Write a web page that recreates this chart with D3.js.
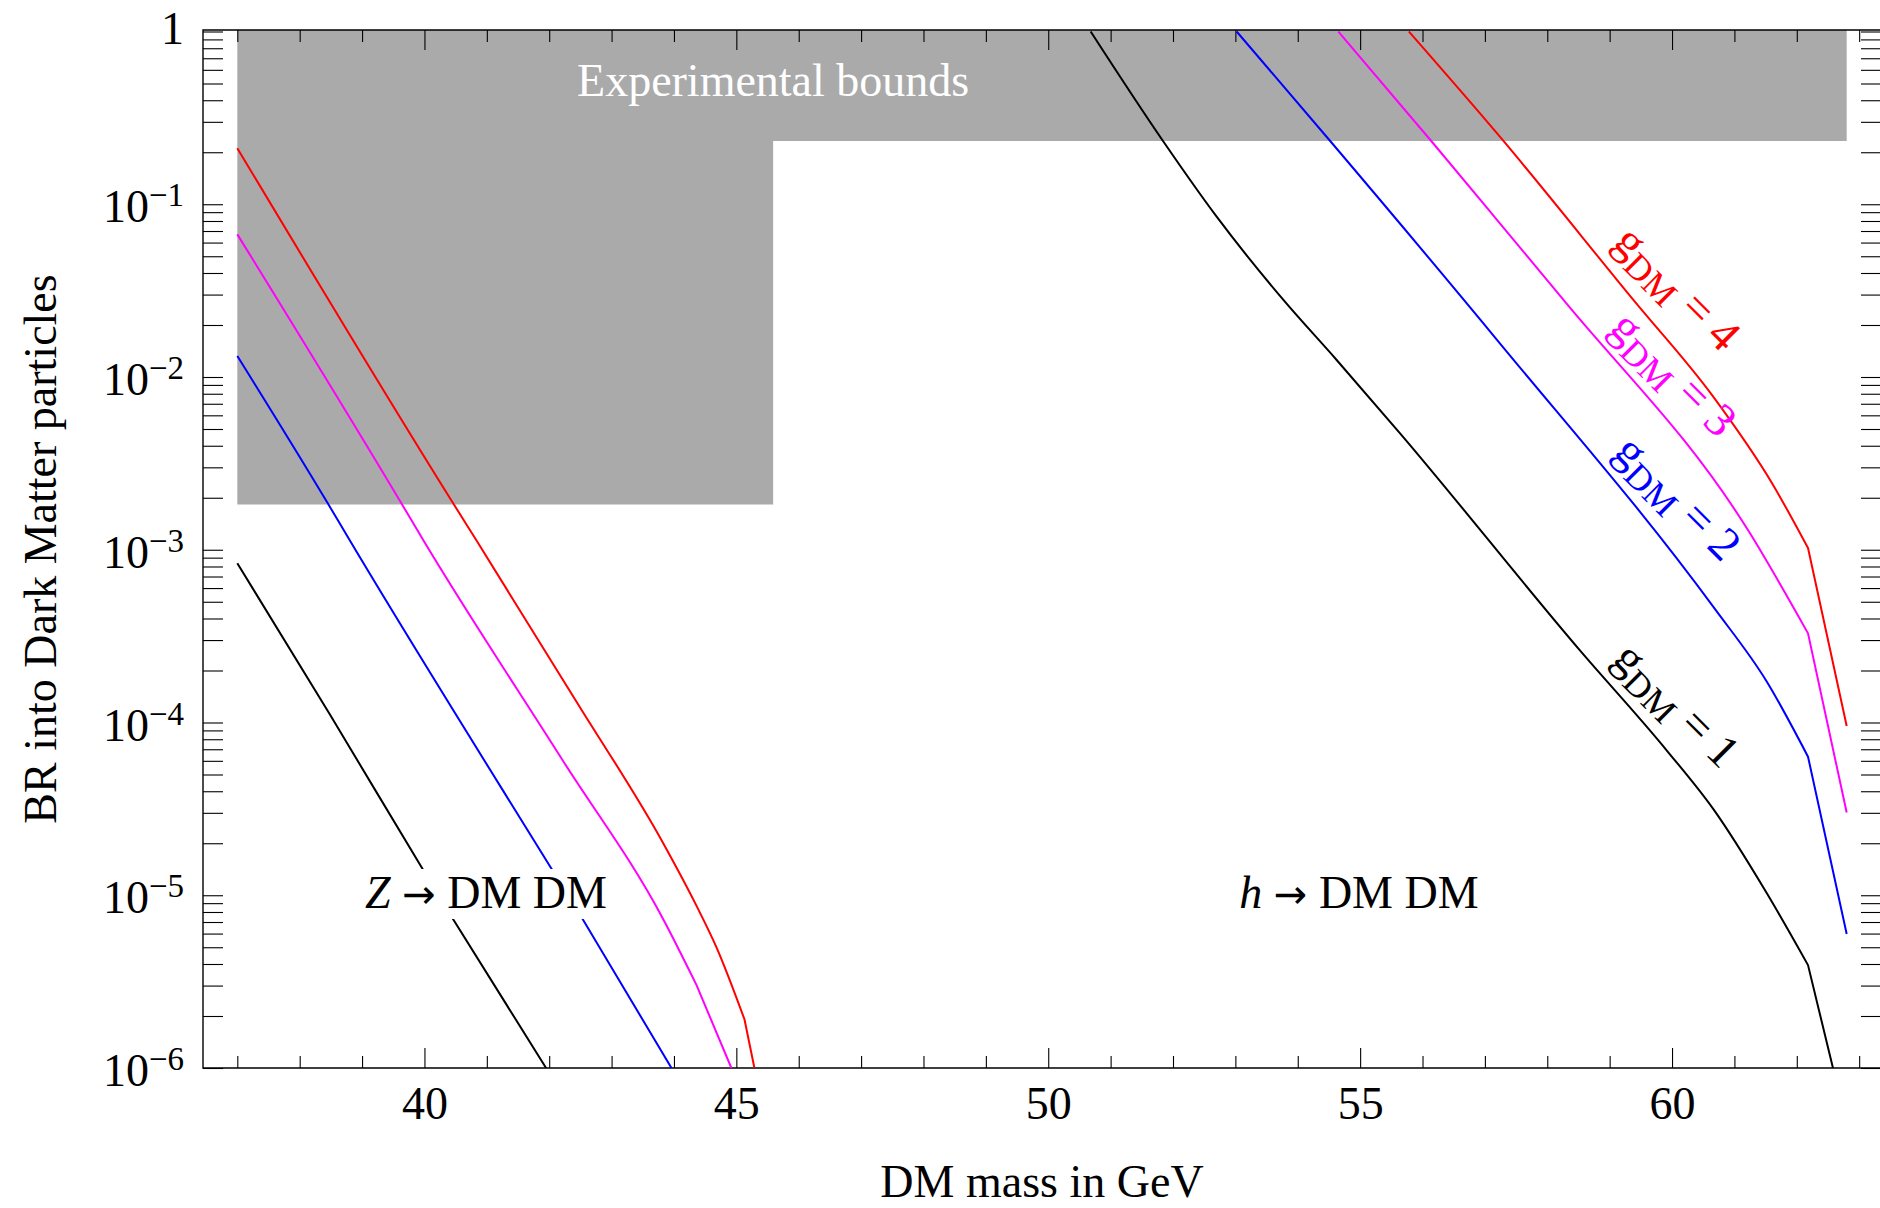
<!DOCTYPE html>
<html><head><meta charset="utf-8">
<script src="https://cdn.jsdelivr.net/npm/d3@7"></script>
<style>
body{margin:0;background:#fff;}
svg{display:block;}
text{font-family:"Liberation Serif","Times New Roman",Times,serif;}
</style></head><body>
<svg id="chart" width="1880" height="1208"></svg>
<script>
// ---------------- data ----------------
// DM mass in GeV, BR into DM particles
// Z -> DM DM
const zMassG1 = [37, 38.48, 39.99, 40.46, 41.95];
const zBRG1   = [8.36e-4, 1.119e-4, 1.380e-5, 7.26e-6, 1.0e-6];
const zMassG2 = [37, 38.45, 38.80, 42.06, 42.54, 43.96];
const zBRG2   = [1.324e-2, 1.858e-3, 1.138e-3, 1.380e-5, 7.24e-6, 1.0e-6];
const zMassG3 = [37, 39.63, 39.98, 42.22, 43.83, 44.36, 44.92];
const zBRG3   = [6.70e-2, 1.858e-3, 1.138e-3, 6.01e-5, 7.24e-6, 3.03e-6, 1.0e-6];
const zMassG4 = [37, 40.46, 40.83, 42.44, 43.83, 44.36, 44.68, 45.13, 45.29];
const zBRG4   = [0.211, 1.858e-3, 1.138e-3, 1.315e-4, 1.995e-5, 8.71e-6, 5.01e-6, 1.914e-6, 1.0e-6];
// h -> DM DM
const hMassG1 = [50.68, 51.84, 52.70, 53.77, 54.62, 55.64, 58.52, 59.91, 60.66, 61.52, 62.18, 62.58];
const hBRG1   = [1.0, 0.2323, 0.0847, 0.02793, 0.01259, 4.72e-3, 2.624e-4, 6.93e-5, 3.16e-5, 1.026e-5, 3.94e-6, 1.0e-6];
const hMassG2 = [53.02, 54.52, 57.24, 60.66, 61.52, 62.18, 62.8];
const hBRG2   = [1.0, 0.2323, 1.567e-2, 4.68e-4, 1.722e-4, 6.34e-5, 5.97e-6];
const hMassG3 = [54.65, 56.14, 57.24, 58.26, 61.25, 62.18, 62.8];
const hBRG3   = [1.0, 0.2323, 7.76e-2, 2.793e-2, 1.245e-3, 3.28e-4, 3.01e-5];
const hMassG4 = [55.78, 57.24, 59.38, 60.66, 61.62, 62.18, 62.8];
const hBRG4   = [1.0, 0.246, 2.793e-2, 7.69e-3, 2.371e-3, 1.023e-3, 9.55e-5];

const couplings = [1, 2, 3, 4];
const couplingColors = ["#000000", "#0000ff", "#ff00ff", "#ff0000"];

// experimental bounds: mass edges and BR limits (Z region, h region)
const boundMass = [37, 45.59, 62.8];
const boundBR   = [1.83e-3, 0.232];

// ticks
const xMajorTicks = [40, 45, 50, 55, 60];
const xMinorTicks = [37, 38, 39, 41, 42, 43, 44, 46, 47, 48, 49, 51, 52, 53, 54, 56, 57, 58, 59, 61, 62, 63];
const yDecadeExps = [0, -1, -2, -3, -4, -5, -6];

// ---------------- drawing ----------------
const svg = d3.select("#chart");
svg.append("rect").attr("width", 1880).attr("height", 1208).attr("fill", "#fff");

const x = d3.scaleLinear().domain([36.45, 63.35]).range([203, 1881]);
const y = d3.scaleLog().domain([1e-6, 1]).range([1068, 31.5]);
const frameTop = y(1) - 1.5, frameBottom = y(1e-6), frameLeft = x.range()[0], frameRight = x.range()[1];
const FONT = '"Liberation Serif","Times New Roman",Times,serif';

svg.append("defs").append("clipPath").attr("id", "plotclip")
  .append("rect").attr("x", frameLeft).attr("y", frameTop)
  .attr("width", frameRight - frameLeft).attr("height", frameBottom - frameTop);

// grey excluded region
const greyPts = [
  [x(boundMass[0]), frameTop],
  [x(boundMass[0]), y(boundBR[0])],
  [x(boundMass[1]), y(boundBR[0])],
  [x(boundMass[1]), y(boundBR[1])],
  [x(boundMass[2]), y(boundBR[1])],
  [x(boundMass[2]), frameTop]
];
svg.append("path").attr("d", d3.line()(greyPts) + "Z").attr("fill", "#aaaaaa");

svg.append("text").attr("x", x(boundMass[1])).attr("y", 96)
  .attr("text-anchor", "middle").attr("font-size", 46).attr("fill", "#fff")
  .text("Experimental bounds");

// axes ticks
function styleAxis(g) {
  g.select(".domain").remove();
  g.selectAll(".tick line").attr("stroke", "#000").attr("stroke-width", 1.1);
}
const allYTicks = [];
yDecadeExps.forEach(e => allYTicks.push(Math.pow(10, e)));
for (let e = -6; e < 0; e++) for (let m = 2; m <= 9; m++) allYTicks.push(m * Math.pow(10, e));

svg.append("g").attr("transform", `translate(0,${frameBottom})`)
  .call(d3.axisBottom(x).tickValues(xMinorTicks).tickSizeInner(-12).tickSizeOuter(0).tickFormat(""))
  .call(styleAxis);
const xb = svg.append("g").attr("transform", `translate(0,${frameBottom})`)
  .call(d3.axisBottom(x).tickValues(xMajorTicks).tickSizeInner(-20).tickSizeOuter(0).tickFormat(d3.format("d")))
  .call(styleAxis);
xb.selectAll("text").attr("y", 51).attr("dy", null)
  .attr("font-size", 46).attr("font-family", FONT).attr("fill", "#000");

svg.append("g").attr("transform", `translate(0,${frameTop})`)
  .call(d3.axisTop(x).tickValues(xMinorTicks).tickSizeInner(-12).tickSizeOuter(0).tickFormat(""))
  .call(styleAxis);
svg.append("g").attr("transform", `translate(0,${frameTop})`)
  .call(d3.axisTop(x).tickValues(xMajorTicks).tickSizeInner(-20).tickSizeOuter(0).tickFormat(""))
  .call(styleAxis);

svg.append("g").attr("transform", `translate(${frameLeft},0)`)
  .call(d3.axisLeft(y).tickValues(allYTicks).tickSizeInner(-20).tickSizeOuter(0).tickFormat(""))
  .call(styleAxis);
svg.append("g").attr("transform", `translate(${frameRight},0)`)
  .call(d3.axisRight(y).tickValues(allYTicks).tickSizeInner(-20).tickSizeOuter(0).tickFormat(""))
  .call(styleAxis);

// y tick labels
yDecadeExps.forEach(e => {
  const v = Math.pow(10, e);
  if (e === 0) {
    svg.append("text").attr("x", 184).attr("y", y(v) + 12).attr("text-anchor", "end")
      .attr("font-size", 46).text("1");
  } else {
    const t = svg.append("text").attr("x", 184).attr("y", y(v) + 18).attr("text-anchor", "end")
      .attr("font-size", 46);
    t.append("tspan").text("10");
    t.append("tspan").attr("font-size", 33).attr("dy", -16).text("\u2212" + (-e));
  }
});

// frame
svg.append("path")
  .attr("d", `M${frameRight},${frameTop}H${frameLeft}V${frameBottom}H${frameRight}`)
  .attr("fill", "none").attr("stroke", "#000").attr("stroke-width", 1.4);

// curves: smooth body, straight final segment (sharp kink near threshold)
const smooth = d3.line().x(d => x(d[0])).y(d => y(d[1])).curve(d3.curveMonotoneX);
const plot = svg.append("g").attr("clip-path", "url(#plotclip)");
const zSeries = [[zMassG1, zBRG1], [zMassG2, zBRG2], [zMassG3, zBRG3], [zMassG4, zBRG4]];
const hSeries = [[hMassG1, hBRG1], [hMassG2, hBRG2], [hMassG3, hBRG3], [hMassG4, hBRG4]];
[zSeries, hSeries].forEach(set => set.forEach((s, i) => {
  const pts = d3.zip(s[0], s[1]);
  const n = pts.length;
  const d = smooth(pts.slice(0, n - 1)) + "L" + x(pts[n - 1][0]) + "," + y(pts[n - 1][1]);
  plot.append("path").attr("d", d)
    .attr("fill", "none").attr("stroke", couplingColors[i]).attr("stroke-width", 2)
    .attr("stroke-linejoin", "round");
}));

// process labels (with white background box)
function processLabel(cx, italicPart) {
  const g = svg.append("g");
  const bg = g.append("rect").attr("fill", "#fff");
  const t = g.append("text").attr("x", cx).attr("y", 908).attr("text-anchor", "middle")
    .attr("font-size", 46).attr("fill", "#000");
  t.append("tspan").attr("font-style", "italic").text(italicPart + " ");
  t.append("tspan").attr("font-family", '"DejaVu Sans",sans-serif').attr("font-size", 40).text("\u2192");
  t.append("tspan").text(" DM DM");
  const bb = t.node().getBBox();
  bg.attr("x", bb.x - 4).attr("y", 869).attr("width", bb.width + 8).attr("height", 50);
}
processLabel(486, "Z");
processLabel(1359, "h");

// coupling labels along the h curves
const labelPos = [[60.03, -3.915], [60.05, -2.717], [59.98, -1.999], [60.04, -1.502]];
couplings.forEach((gv, i) => {
  const cx = x(labelPos[i][0]), cy = y(Math.pow(10, labelPos[i][1]));
  const t = svg.append("text").attr("transform", `translate(${cx},${cy}) rotate(45)`)
    .attr("text-anchor", "middle").attr("y", 11).attr("font-size", 47).attr("fill", couplingColors[i]);
  t.append("tspan").text("g");
  t.append("tspan").attr("font-size", 36).attr("dy", 10).text("DM");
  t.append("tspan").attr("dy", -10).text(" = " + gv);
});

// axis titles
svg.append("text").attr("x", 1042).attr("y", 1197).attr("text-anchor", "middle")
  .attr("font-size", 46).text("DM mass in GeV");
svg.append("text").attr("transform", "translate(56,549) rotate(-90)").attr("text-anchor", "middle")
  .attr("font-size", 46).text("BR into Dark Matter particles");
</script>
</body></html>
